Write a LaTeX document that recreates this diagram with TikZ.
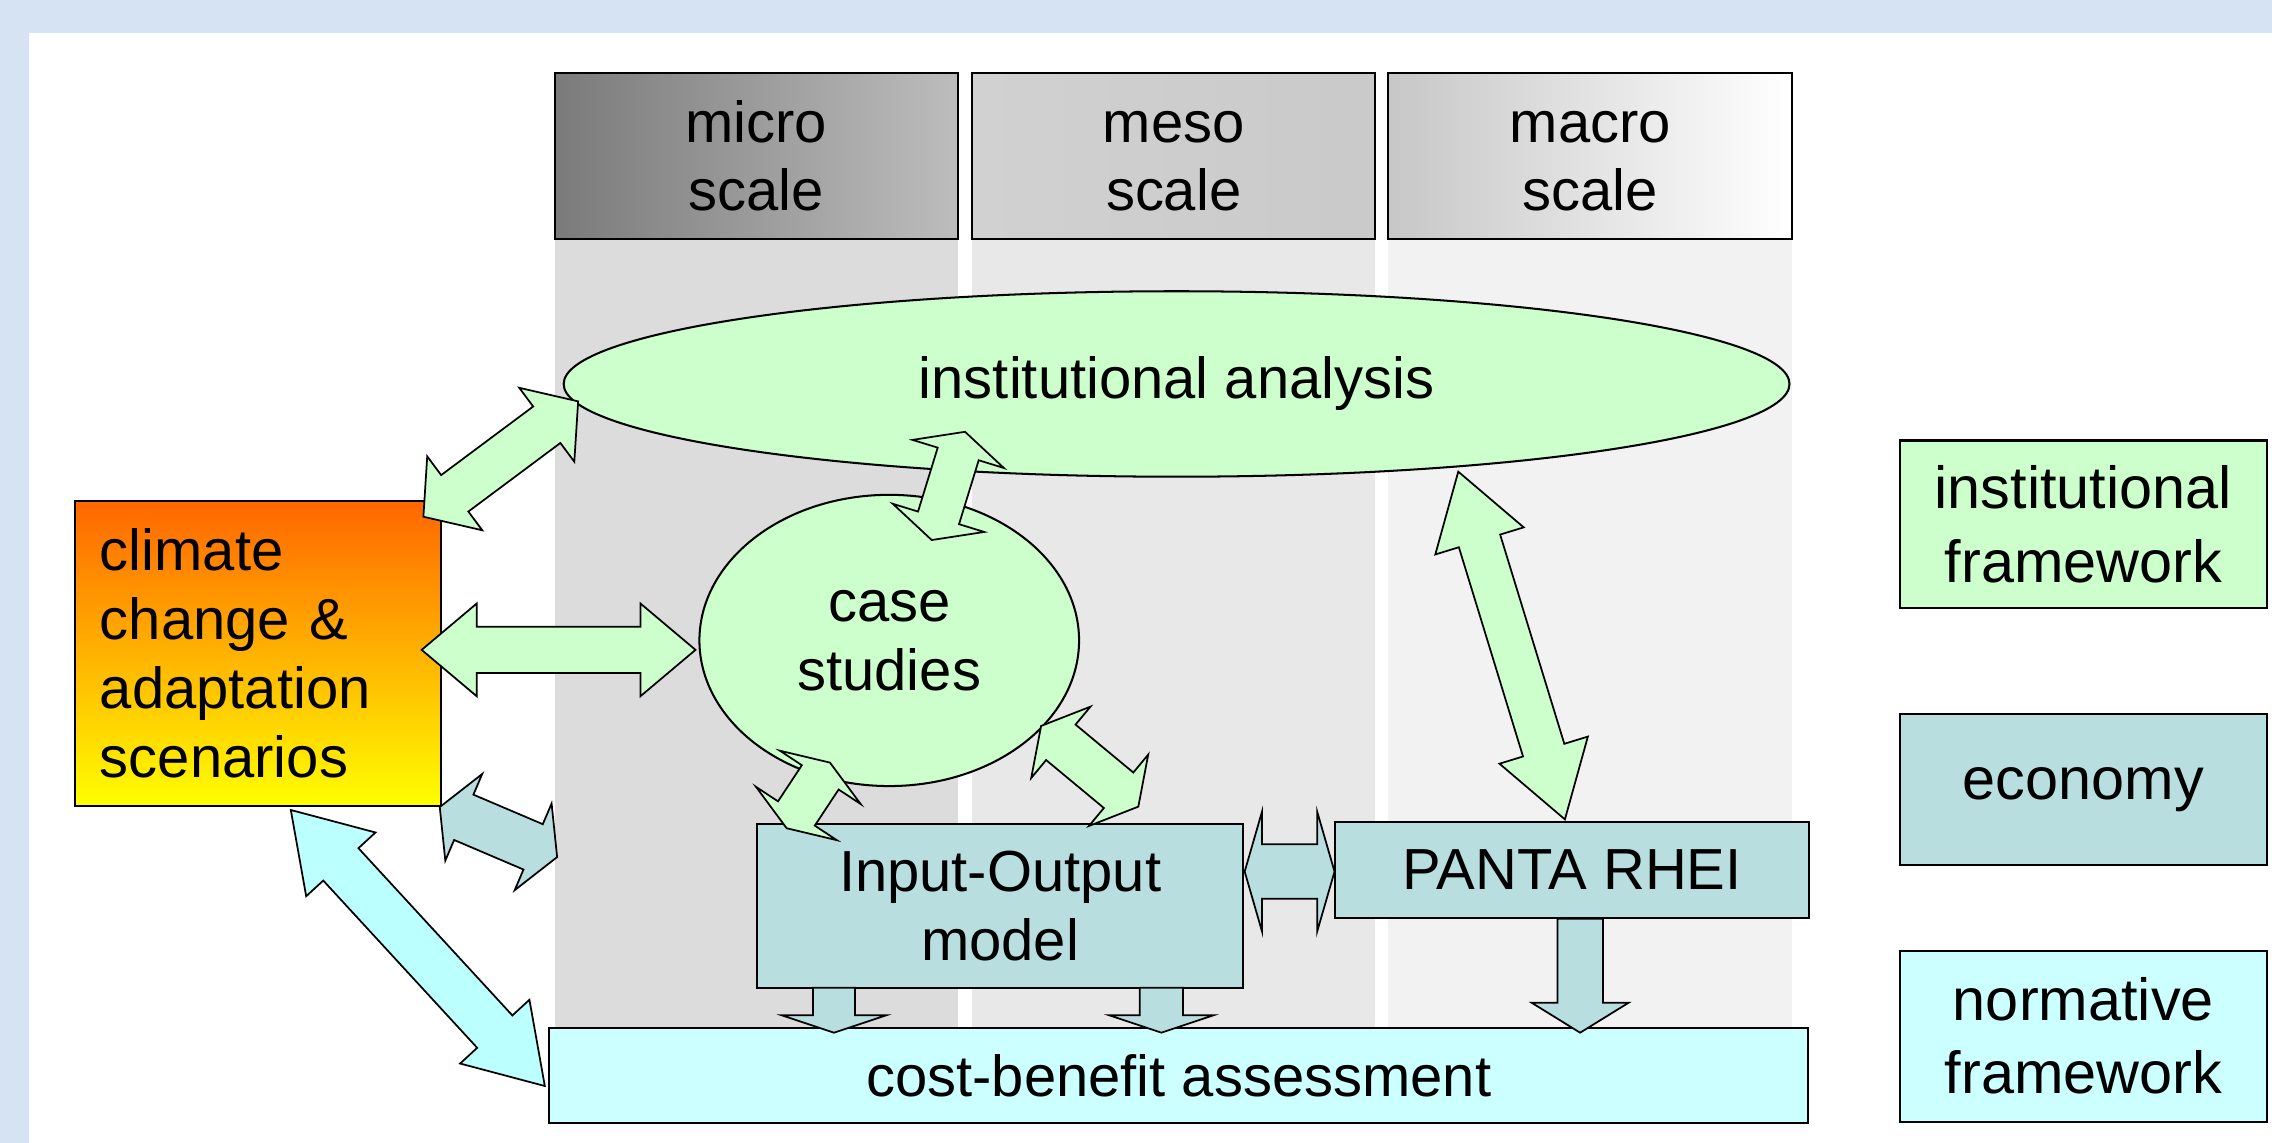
\documentclass[tikz,border=0pt]{standalone}
\usepackage{fontspec}
\setmainfont{Liberation Sans}
\usetikzlibrary{shapes.geometric,calc}
\definecolor{bgblue}{HTML}{D6E3F3}
\definecolor{grn}{HTML}{CCFFCC}
\definecolor{tealbox}{HTML}{B8DEE0}
\definecolor{cyn}{HTML}{CCFFFF}
\definecolor{cynarrow}{HTML}{BBFFFF}
\definecolor{colA}{HTML}{DCDCDC}
\definecolor{colB}{HTML}{E8E8E8}
\definecolor{colC}{HTML}{F2F2F2}
\newcommand\mainfs{\fontsize{40}{47.5}\selectfont}
\newcommand\legfs{\fontsize{41}{50.5}\selectfont}
% double-headed block arrow: #1 style, #2 tip a, #3 tip b, #4 half shaft, #5 half head, #6 head length
\newcommand\blkarrow[6]{%
  \coordinate (ha) at ($(#2)!#6!(#3)$);
  \coordinate (hb) at ($(#3)!#6!(#2)$);
  \draw[#1] (#2) -- ($(ha)!#5!90:(#3)$) -- ($(ha)!#4!90:(#3)$) -- ($(hb)!#4!-90:(#2)$)
    -- ($(hb)!#5!-90:(#2)$) -- (#3) -- ($(hb)!#5!90:(#2)$) -- ($(hb)!#4!90:(#2)$)
    -- ($(ha)!#4!-90:(#3)$) -- ($(ha)!#5!-90:(#3)$) -- cycle;
}
% single-headed block arrow: #1 style, #2 tail, #3 tip, #4 half shaft, #5 half head, #6 head length
\newcommand\blkdown[6]{%
  \coordinate (hb) at ($(#3)!#6!(#2)$);
  \draw[#1] ($(#2)!#4!90:(#3)$) -- ($(hb)!#4!-90:(#2)$) -- ($(hb)!#5!-90:(#2)$) -- (#3)
    -- ($(hb)!#5!90:(#2)$) -- ($(hb)!#4!90:(#2)$) -- ($(#2)!#4!-90:(#3)$) -- cycle;
}
\tikzset{
  box/.style={draw=black, line width=1.4pt, rectangle, inner sep=0pt, align=center, font=\mainfs},
  hdr/.style={box, minimum height=114.5pt},
  colbox/.style={rectangle, draw=none, inner sep=0pt, minimum height=544pt},
  oval/.style={ellipse, draw=black, line width=1.4pt, fill=grn, inner sep=0pt, align=center, font=\mainfs},
  legend/.style={box, font=\legfs, minimum width=253pt},
  garrow/.style={draw=black, line width=1.2pt, fill=grn, line join=miter},
  tarrow/.style={draw=black, line width=1.2pt, fill=tealbox, line join=miter},
  carrow/.style={draw=black, line width=1.2pt, fill=cynarrow, line join=miter},
}
\begin{document}
\begin{tikzpicture}[x=1pt, y=-1pt]
\useasboundingbox (0,0) rectangle (1568,788.8);
\fill[bgblue] (0,0) rectangle (1568,788.8);
\fill[white] (20,23) rectangle (1568,788.8);

% scale columns
\node[colbox, fill=colA, minimum width=278pt] (colmicro) at (522,437.5) {};
\node[colbox, fill=colB, minimum width=278pt] (colmeso) at (810,437.5) {};
\node[colbox, fill=colC, minimum width=279pt] (colmacro) at (1097.5,437.5) {};

% headers
\node[hdr, minimum width=278pt, left color=black!52, right color=black!26] (micro) at (522,107.5) {micro\\scale};
\node[hdr, minimum width=278pt, left color=black!18, right color=black!21] (meso) at (810,107.5) {\vphantom{l}meso\\scale};
\node[hdr, minimum width=279pt, left color=black!22, right color=white] (macro) at (1097.5,107.5) {\vphantom{l}macro\\scale};

% main elements
\node[oval, minimum width=846pt, minimum height=128pt] (inst) at (812,265) {institutional analysis};
\node[oval, minimum width=262pt, minimum height=201pt] (case) at (613.7,442) {case\\studies};
\node[box, top color=orange!80!red, bottom color=yellow, middle color=orange!60!yellow,
      minimum width=252.8pt, minimum height=210.7pt, text width=218.4pt, align=left] (clim) at (178.2,451) {climate\\change \&\\adaptation\\scenarios};
\node[box, fill=tealbox, minimum width=335.1pt, minimum height=112.8pt] (io) at (690.25,625.2) {Input-Output\\model};
\node[box, fill=tealbox, minimum width=327.4pt, minimum height=66.4pt] (panta) at (1085,600.3) {PANTA RHEI};
\node[box, fill=cyn, minimum width=868.6pt, minimum height=65.3pt] (cba) at (813.5,742.15) {cost-benefit assessment};

% legend
\node[legend, fill=grn, minimum height=115.6pt] (leginst) at (1437.8,361.8) {institutional\\framework};
\node[legend, fill=tealbox, minimum height=104.5pt] (legecon) at (1437.8,544.75) {economy};
\node[legend, fill=cyn, minimum height=118pt] (legnorm) at (1437.8,715) {normative\\framework};

% arrow end points
\coordinate (a1s) at (292.2,356.6);  \coordinate (a1e) at (399,277);
\coordinate (a2s) at (291,448.5);    \coordinate (a2e) at (480,448.5);
\coordinate (a3s) at (666,298);      \coordinate (a3e) at (643,372.7);
\coordinate (a4s) at (572.8,526.3);  \coordinate (a4e) at (542.9,571.6);
\coordinate (a5s) at (718.5,501);    \coordinate (a5e) at (785.6,556.7);
\coordinate (a6s) at (1006.4,325.5); \coordinate (a6e) at (1080,565.5);
\coordinate (a7s) at (859,601.5);    \coordinate (a7e) at (921,601.5);
\coordinate (a8s) at (303.5,557);    \coordinate (a8e) at (384.5,591.5);
\coordinate (a9s) at (200.7,559);    \coordinate (a9e) at (376,749.5);
\coordinate (d1s) at (575.6,681.6);  \coordinate (d1e) at (575.6,712.7);
\coordinate (d2s) at (801.5,681.6);  \coordinate (d2e) at (801.5,712.7);
\coordinate (d3s) at (1090.5,634);   \coordinate (d3e) at (1090.5,712.7);

% arrows
\blkarrow{garrow}{a1s}{a1e}{15.7pt}{31.8pt}{27pt}
\blkarrow{garrow}{a2s}{a2e}{16pt}{32pt}{38pt}
\blkarrow{garrow}{a3s}{a3e}{14.8pt}{33pt}{16pt}
\blkarrow{garrow}{a4s}{a4e}{15.2pt}{33.4pt}{12.2pt}
\blkarrow{garrow}{a5s}{a5e}{15.9pt}{32pt}{17.7pt}
\blkarrow{garrow}{a6s}{a6e}{14.9pt}{31.9pt}{50pt}
\blkarrow{tarrow}{a7s}{a7e}{18.8pt}{41.5pt}{12pt}
\blkarrow{tarrow}{a8s}{a8e}{17pt}{32.5pt}{18pt}
\blkarrow{carrow}{a9s}{a9e}{16.5pt}{32.5pt}{51pt}
\blkdown{tarrow}{d1s}{d1e}{14.5pt}{36pt}{12pt}
\blkdown{tarrow}{d2s}{d2e}{15pt}{36pt}{12pt}
\blkdown{tarrow}{d3s}{d3e}{15.7pt}{33.5pt}{20.7pt}
\end{tikzpicture}
\end{document}
